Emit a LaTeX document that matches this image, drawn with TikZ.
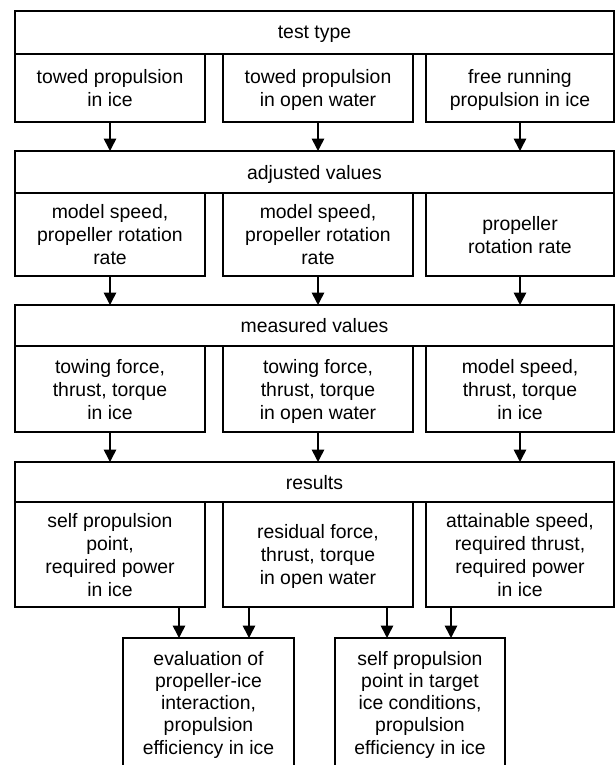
\documentclass[tikz,border=0pt]{standalone}
\usepackage{fontspec}
\setmainfont{Liberation Sans}
\usetikzlibrary{arrows.meta}
\begin{document}
\begin{tikzpicture}[x=1pt,y=-1pt,
  box/.style={draw,line width=1.6pt,inner sep=0pt,outer sep=0pt,align=center,
    text depth=0pt,font=\fontsize{19.4}{23}\selectfont},
  txt/.style={inner sep=0pt,outer sep=0pt,align=center,
    font=\fontsize{19.4}{22.3}\selectfont},
  arr/.style={line width=1.6pt,-{Triangle[width=12.5pt,length=12.5pt]}}]
\useasboundingbox (0,0) rectangle (615,765);
\clip (0,0) rectangle (615,765);
% row 1
\node[box,minimum width=599,minimum height=43] (h1) at (314.5,32.5) {test type};
\node[box,minimum width=190,minimum height=68] (a1) at (110,88) {towed propulsion\\in ice};
\node[box,minimum width=190,minimum height=68] (a2) at (318,88) {towed propulsion\\in open water};
\node[box,minimum width=188,minimum height=68] (a3) at (520,88) {free running\\propulsion in ice};
% row 2
\node[box,minimum width=599,minimum height=42] (h2) at (314.5,172) {adjusted values};
\node[box,minimum width=190,minimum height=83] (b1) at (110,234.5) {model speed,\\propeller rotation\\rate};
\node[box,minimum width=190,minimum height=83] (b2) at (318,234.5) {model speed,\\propeller rotation\\rate};
\node[box,minimum width=188,minimum height=83] (b3) at (520,234.5) {propeller\\rotation rate};
% row 3
\node[box,minimum width=599,minimum height=41] (h3) at (314.5,325.5) {measured values};
\node[box,minimum width=190,minimum height=86] (c1) at (110,389) {towing force,\\thrust, torque\\in ice};
\node[box,minimum width=190,minimum height=86] (c2) at (318,389) {towing force,\\thrust, torque\\in open water};
\node[box,minimum width=188,minimum height=86] (c3) at (520,389) {model speed,\\thrust, torque\\in ice};
% row 4
\node[box,minimum width=599,minimum height=40] (h4) at (314.5,482) {results};
\node[box,minimum width=190,minimum height=105] (d1) at (110,554.5) {self propulsion\\point,\\required power\\in ice};
\node[box,minimum width=190,minimum height=105] (d2) at (318,554.5) {residual force,\\thrust, torque\\in open water};
\node[box,minimum width=188,minimum height=105] (d3) at (520,554.5) {attainable speed,\\required thrust,\\required power\\in ice};
% bottom boxes (cut off)
\node[box,minimum width=171,minimum height=200] (e1) at (208.5,738) {};
\node[box,minimum width=170,minimum height=200] (e2) at (420,738) {};
\node[txt,anchor=north] (t1) at (208.5,651) {evaluation of\\propeller-ice\\interaction,\\propulsion\\efficiency in ice};
\node[txt,anchor=north] (t2) at (420,651) {self propulsion\\point in target\\ice conditions,\\propulsion\\efficiency in ice};
% arrows
\foreach \u/\v in {a1/h2,a2/h2,a3/h2,b1/h3,b2/h3,b3/h3,c1/h4,c2/h4,c3/h4}
  \draw[arr] (\u.south) -- (\u.south |- \v.north);
\coordinate (x1) at (179,0);
\coordinate (x2) at (249,0);
\coordinate (x3) at (387,0);
\coordinate (x4) at (451,0);
\draw[arr] (d1.south -| x1) -- (e1.north -| x1);
\draw[arr] (d2.south -| x2) -- (e1.north -| x2);
\draw[arr] (d2.south -| x3) -- (e2.north -| x3);
\draw[arr] (d3.south -| x4) -- (e2.north -| x4);
\end{tikzpicture}
\end{document}
